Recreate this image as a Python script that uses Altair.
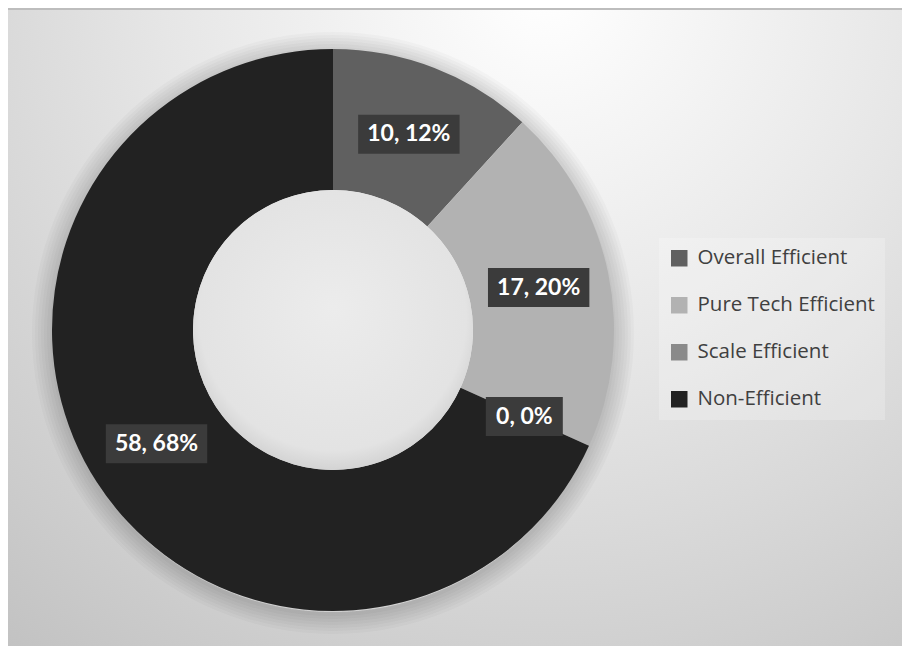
import altair as alt
import pandas as pd

# ---- data ----
categories = ["Overall Efficient", "Pure Tech Efficient", "Scale Efficient", "Non-Efficient"]
counts = [10, 17, 0, 58]
colors = ["#606060", "#b2b2b2", "#8a8a8a", "#222222"]

df = pd.DataFrame({"category": categories, "count": counts, "order": list(range(len(categories)))})
one = pd.DataFrame({"v": [1]})

# ---- layout constants ----
W, H = 894, 637
CX, CY = 325, 321
R_OUT, R_IN, R_LAB = 281, 140, 210
FULL = 6.2832

bg = alt.Chart(one).mark_rect(
    color={"gradient": "radial", "x1": 0.6, "y1": 0.12, "x2": 0.6, "y2": 0.12,
           "r1": 0, "r2": 0.95,
           "stops": [{"offset": 0, "color": "#ffffff"},
                     {"offset": 0.45, "color": "#e6e6e6"},
                     {"offset": 1, "color": "#c2c2c2"}]}
).encode(x=alt.value(0), x2=alt.value(W), y=alt.value(0), y2=alt.value(H))

topline = alt.Chart(one).mark_rule(color="#bdbdbd", strokeWidth=2).encode(
    x=alt.value(0), x2=alt.value(W), y=alt.value(0))

halos = [
    alt.Chart(one).mark_arc(innerRadius=R_OUT - 2, outerRadius=R_OUT + k, theta=0, theta2=FULL,
                            color="#000000", opacity=0.022)
    .encode(x=alt.value(CX), y=alt.value(CY + 3))
    for k in (2, 5, 8, 11, 14, 17, 20)
]

arc = alt.Chart(df).mark_arc(innerRadius=R_IN, outerRadius=R_OUT).encode(
    theta=alt.Theta("count:Q", stack=True),
    color=alt.Color(
        "category:N",
        scale=alt.Scale(domain=categories, range=colors),
        legend=alt.Legend(
            title=None, orient="none", legendX=651, legendY=229,
            symbolType="square", symbolSize=272, symbolStrokeWidth=0,
            labelFont="Open Sans", labelFontSize=20.5, labelColor="#404040",
            labelOffset=8, labelLimit=400, rowPadding=26, padding=10,
            fillColor="rgba(255,255,255,0.22)",
        ),
    ),
    order=alt.Order("order:Q"),
    x=alt.value(CX), y=alt.value(CY),
)

hole = alt.Chart(one).mark_arc(
    outerRadius=R_IN, theta=0, theta2=FULL,
    color={"gradient": "radial", "x1": 0.5, "y1": 0.42, "x2": 0.5, "y2": 0.46,
           "r1": 0, "r2": 0.56,
           "stops": [{"offset": 0, "color": "#ececec"},
                     {"offset": 0.85, "color": "#e3e3e3"},
                     {"offset": 1, "color": "#cfcfcf"}]}
).encode(x=alt.value(CX), y=alt.value(CY))

lab = alt.Chart(df).transform_joinaggregate(
    total="sum(count)"
).transform_window(
    cum="sum(count)", sort=[alt.SortField("order")], frame=[None, 0]
).transform_calculate(
    mid="(datum.cum - datum.count / 2) / datum.total * 2 * PI",
    lx=f"{CX} + {R_LAB} * sin(datum.mid)",
    ly=f"{CY} - {R_LAB} * cos(datum.mid)",
    label="datum.count + ', ' + round(datum.count / datum.total * 100) + '%'",
).transform_calculate(
    bx1="datum.lx - (length(datum.label) * 12.2 + 16) / 2",
    bx2="datum.lx + (length(datum.label) * 12.2 + 16) / 2",
    by1="datum.ly - 19.5",
    by2="datum.ly + 19.5",
)

boxes = lab.mark_rect(color="#3b3b3b").encode(
    x=alt.X("bx1:Q", scale=None), x2="bx2:Q",
    y=alt.Y("by1:Q", scale=None), y2="by2:Q",
)
texts = lab.mark_text(font="Lato", fontSize=23, fontWeight="bold", color="#ffffff",
                      align="center", baseline="middle").encode(
    x=alt.X("lx:Q", scale=None), y=alt.Y("ly:Q", scale=None), text="label:N")

chart = alt.layer(bg, topline, *halos, arc, hole, boxes, texts).properties(
    width=W, height=H,
    autosize=alt.AutoSizeParams(type="none"),
    padding={"left": 8, "top": 9, "right": 0, "bottom": 0},
    background="#ffffff",
).configure_view(stroke=None)

chart.save("out.html", embed_options={"renderer": "svg", "actions": False})
